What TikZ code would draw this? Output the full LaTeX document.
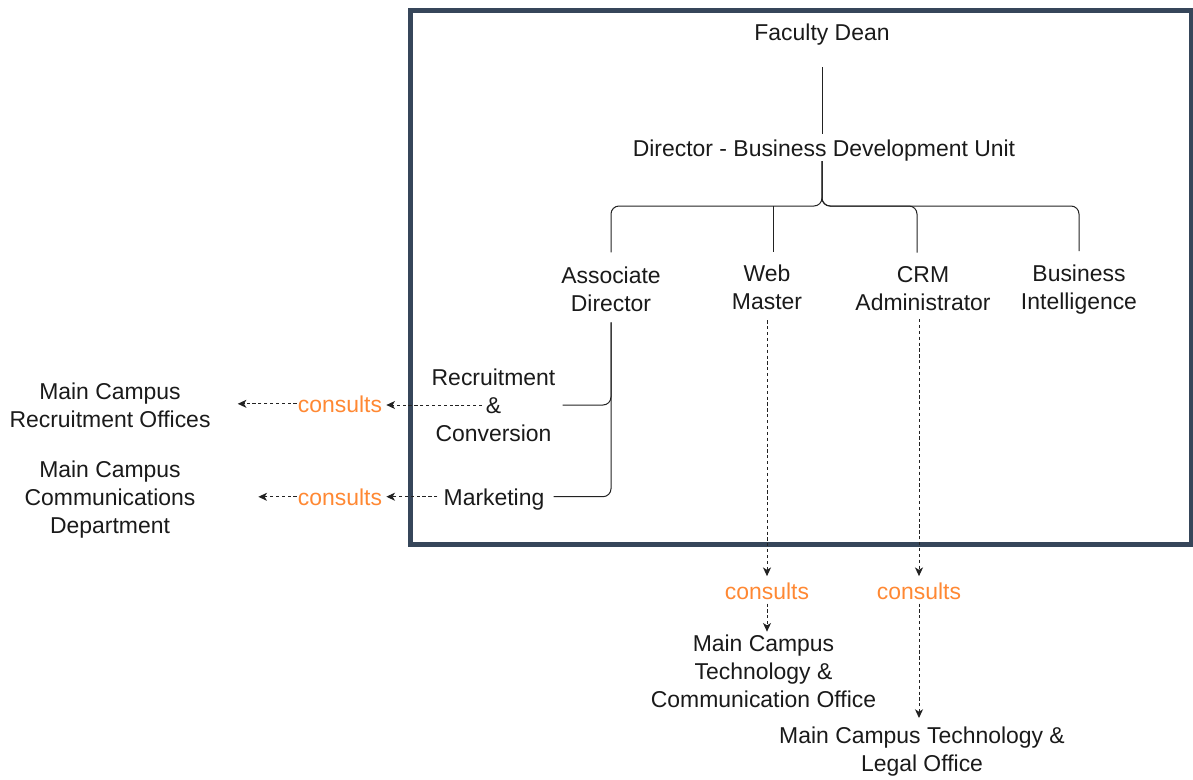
\documentclass[tikz,border=0pt]{standalone}
\usepackage{fontspec}
\setmainfont{Liberation Sans}
\usetikzlibrary{arrows.meta,calc}
\definecolor{framecol}{HTML}{36465A}
\definecolor{txtcol}{HTML}{1A1A1A}
\definecolor{conscol}{HTML}{FF8833}
\definecolor{linecol}{HTML}{222222}
\begin{document}
\begin{tikzpicture}[x=0.75pt,y=-0.75pt,
  txt/.style={inner sep=0pt, align=center, text=txtcol, font=\fontsize{17.2}{21}\selectfont},
  cons/.style={txt, text=conscol},
  link/.style={draw=linecol, line width=0.75pt},
  tree/.style={link, rounded corners=6pt},
  consult/.style={link, dash pattern=on 2.4pt off 2pt, -{Stealth[length=6.5pt,width=6pt,inset=1.8pt]}},
  frame/.style={draw=framecol, line width=3.75pt}]
\useasboundingbox (0,0) rectangle (1193,779);
\draw[frame] (410.5,10) rectangle (1191,544);

% nodes
\node[txt, anchor=base] (dean) at (822,40) {Faculty Dean};
\node[txt, anchor=base] (dir) at (824,156) {Director - Business Development Unit};
\node[txt] (ad) at (611,289) {Associate\\Director};
\node[txt] (wm) at (767,287) {Web\\Master};
\node[txt] (crm) at (923,289) {CRM\\Administrator};
\node[txt] (bi) at (1079,290) {Business\\Intelligence};
\node[txt] (rc) at (493.5,405) {Recruitment\\\&\\Conversion};
\node[txt, anchor=base, text depth=0pt] (mk) at (494,505) {Marketing};
\node[cons, anchor=base] (c1) at (340,412) {consults};
\node[cons, anchor=base] (c2) at (340,505) {consults};
\node[txt] (mcro) at (110,405) {Main Campus\\Recruitment Offices};
\node[txt] (mccd) at (110,499.5) {Main Campus\\Communications\\Department};
\node[cons, anchor=base] (c3) at (767,599) {consults};
\node[cons, anchor=base] (c4) at (919,599) {consults};
\node[txt] (mctc) at (763.5,671) {Main Campus\\Technology \&\\Communication Office};
\node[txt] (mctl) at (922,752) {Main Campus Technology \&\\Legal Office};
\coordinate (bus) at (822,206);

% tree connectors
\draw[link, shorten <=16.5pt, shorten >=3.6pt] (dean.south) -- (dean.south |- dir.north);
\draw[tree, shorten >=10.5pt] (dean.south |- dir.south) -- (bus) -| (ad.north);
\draw[tree, shorten >=10.5pt] (dean.south |- dir.south) -- (bus) -| ($(crm.north)+(-6,0)$);
\draw[tree, shorten >=10.5pt] (dean.south |- dir.south) -- (bus) -| (bi.north);
\draw[link, shorten >=9.6pt] ($(bus -| wm.north)+(6,0)$) -- ($(wm.north)+(6,0)$);

% associate director branches
\draw[tree, shorten <=8pt, shorten >=5.25pt] (ad.south) |- (rc.east);
\draw[tree, shorten <=8pt, shorten >=6.75pt] (ad.south) |- (mk.east);

% consults connectors
\draw[consult, shorten <=8.6pt, shorten >=3pt] (rc.center) -- (rc.center -| c1.east);
\draw[consult, shorten <=0.75pt, shorten >=20.25pt] (c1.west) -- (c1.west -| mcro.east);
\draw[consult, shorten <=4.5pt, shorten >=3pt] (mk.west) -- (mk.west -| c2.east);
\draw[consult, shorten <=0.75pt, shorten >=47pt] (c2.west) -- (c2.west -| mccd.east);
\draw[consult, shorten <=8pt, shorten >=4.5pt] (wm.south) -- (c3.north);
\draw[consult, shorten <=3pt, shorten >=2pt] (c3.south) -- (c3.south |- mctc.north);
\draw[consult, shorten <=5.8pt, shorten >=4.5pt] (c4.north |- crm.south) -- (c4.north);
\draw[consult, shorten <=3pt, shorten >=6.8pt] (c4.south) -- (c4.south |- mctl.north);
\end{tikzpicture}
\end{document}
